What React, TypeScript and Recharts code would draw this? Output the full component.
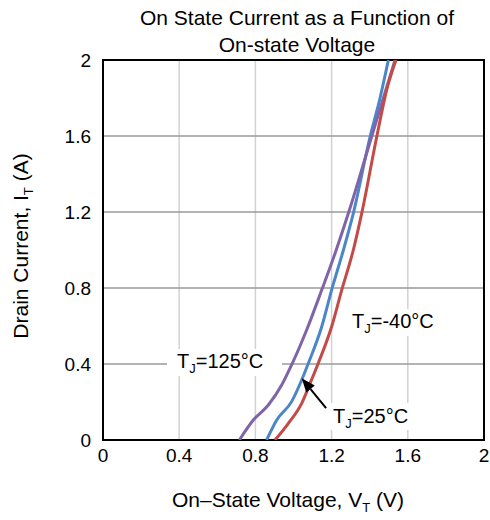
import React from "react"
import {
  LineChart,
  Line,
  XAxis,
  YAxis,
  CartesianGrid,
  ReferenceArea,
  ReferenceLine,
} from "recharts"

// On-state voltage (V) / current (A)
const voltage125 = [0.716, 0.789, 0.868, 0.938, 0.99, 1.069, 1.148, 1.218, 1.288, 1.384, 1.471, 1.533]
const current125 = [0, 0.105, 0.184, 0.289, 0.395, 0.579, 0.789, 0.982, 1.193, 1.509, 1.798, 2.0]

const voltage25 = [0.859, 0.912, 0.99, 1.043, 1.078, 1.148, 1.2, 1.262, 1.314, 1.402, 1.454, 1.498]
const current25 = [0, 0.105, 0.202, 0.316, 0.404, 0.596, 0.789, 1.0, 1.193, 1.596, 1.798, 2.0]

const voltageM40 = [0.903, 0.973, 1.043, 1.087, 1.13, 1.2, 1.253, 1.314, 1.358, 1.437, 1.489, 1.538]
const currentM40 = [0, 0.088, 0.193, 0.298, 0.404, 0.596, 0.789, 1.0, 1.193, 1.596, 1.842, 2.0]

const xTicks = [0, 0.4, 0.8, 1.2, 1.6, 2]
const yTicks = [0, 0.4, 0.8, 1.2, 1.6, 2]

// arrow pointing at the 25°C curve
const arrowFrom = { x: 1.171, y: 0.168 }
const arrowTo = { x: 1.043, y: 0.325 }

const zip = (v: number[], c: number[]) => v.map((x, i) => ({ v: x, i: c[i] }))

const FONT = "'Liberation Sans', Arial, sans-serif"

function Arrow(props: any) {
  const { x1, y1, x2, y2 } = props
  const ang = Math.atan2(y2 - y1, x2 - x1)
  const len = 14
  const half = 5.5
  const bx = x2 - len * Math.cos(ang)
  const by = y2 - len * Math.sin(ang)
  const px = -Math.sin(ang) * half
  const py = Math.cos(ang) * half
  return (
    <g>
      <line x1={x1} y1={y1} x2={bx} y2={by} stroke="#000" strokeWidth={2} />
      <polygon points={`${x2},${y2} ${bx + px},${by + py} ${bx - px},${by - py}`} fill="#000" />
    </g>
  )
}

function Sub({ main, sub, rest }: { main: string; sub: string; rest: string }) {
  return (
    <>
      <tspan>{main}</tspan>
      <tspan fontSize={13} dy={5}>{sub}</tspan>
      <tspan dy={-5}>{rest}</tspan>
    </>
  )
}

export default function App() {
  const tickStyle = { fill: "#000", fontSize: 19, fontFamily: FONT }
  return (
    <div style={{ position: "absolute", left: 0, top: 0, width: 490, height: 520, background: "#fff" }}>
      <LineChart width={490} height={520} margin={{ top: 60, right: 6, left: 0, bottom: 50 }}>
        <CartesianGrid horizontal={false} stroke="#d2d2d2" strokeWidth={1.5} />
        <CartesianGrid vertical={false} stroke="#9a9a9a" strokeWidth={1.5} />
        <XAxis
          dataKey="v"
          type="number"
          domain={[0, 2]}
          ticks={xTicks}
          axisLine={false}
          tickLine={false}
          tickSize={0}
          tickMargin={9}
          height={30}
          tick={tickStyle}
          allowDataOverflow
        />
        <YAxis
          dataKey="i"
          type="number"
          domain={[0, 2]}
          ticks={yTicks}
          axisLine={false}
          tickLine={false}
          tickSize={0}
          tickMargin={12}
          width={103}
          tick={tickStyle}
          allowDataOverflow
        />
        <Line data={zip(voltage25, current25)} dataKey="i" type="monotone" stroke="#4a86c8" strokeWidth={3} dot={false} isAnimationActive={false} />
        <Line data={zip(voltage125, current125)} dataKey="i" type="monotone" stroke="#8064a8" strokeWidth={3} dot={false} isAnimationActive={false} />
        <Line data={zip(voltageM40, currentM40)} dataKey="i" type="monotone" stroke="#c44a48" strokeWidth={3} dot={false} isAnimationActive={false} />
        <ReferenceArea x1={0} x2={2} y1={0} y2={2} fill="none" stroke="#000" strokeWidth={2} strokeOpacity={1} />
        <ReferenceLine segment={[arrowFrom, arrowTo]} shape={<Arrow />} />
      </LineChart>
      <svg
        width={490}
        height={520}
        style={{ position: "absolute", left: 0, top: 0, pointerEvents: "none" }}
        fontFamily={FONT}
      >
        <text x={297} y={25} textAnchor="middle" fontSize={21}>On State Current as a Function of</text>
        <text x={297} y={52} textAnchor="middle" fontSize={21}>On-state Voltage</text>
        <text x={288} y={507} textAnchor="middle" fontSize={21}>
          <Sub main="On–State Voltage, V" sub="T" rest=" (V)" />
        </text>
        <text transform="translate(28,246) rotate(-90)" textAnchor="middle" fontSize={21}>
          <Sub main="Drain Current, I" sub="T" rest=" (A)" />
        </text>

        <rect x={167} y={349} width={115} height={27} fill="#fff" />
        <text x={177} y={368} fontSize={20}>
          <Sub main="T" sub="J" rest="=125°C" />
        </text>

        <rect x={346} y={309} width={100} height={27} fill="#fff" />
        <text x={352} y={328} fontSize={20}>
          <Sub main="T" sub="J" rest="=-40°C" />
        </text>

        <rect x={329} y={403} width={92} height={27} fill="#fff" />
        <text x={333} y={423} fontSize={20}>
          <Sub main="T" sub="J" rest="=25°C" />
        </text>
      </svg>
    </div>
  )
}
